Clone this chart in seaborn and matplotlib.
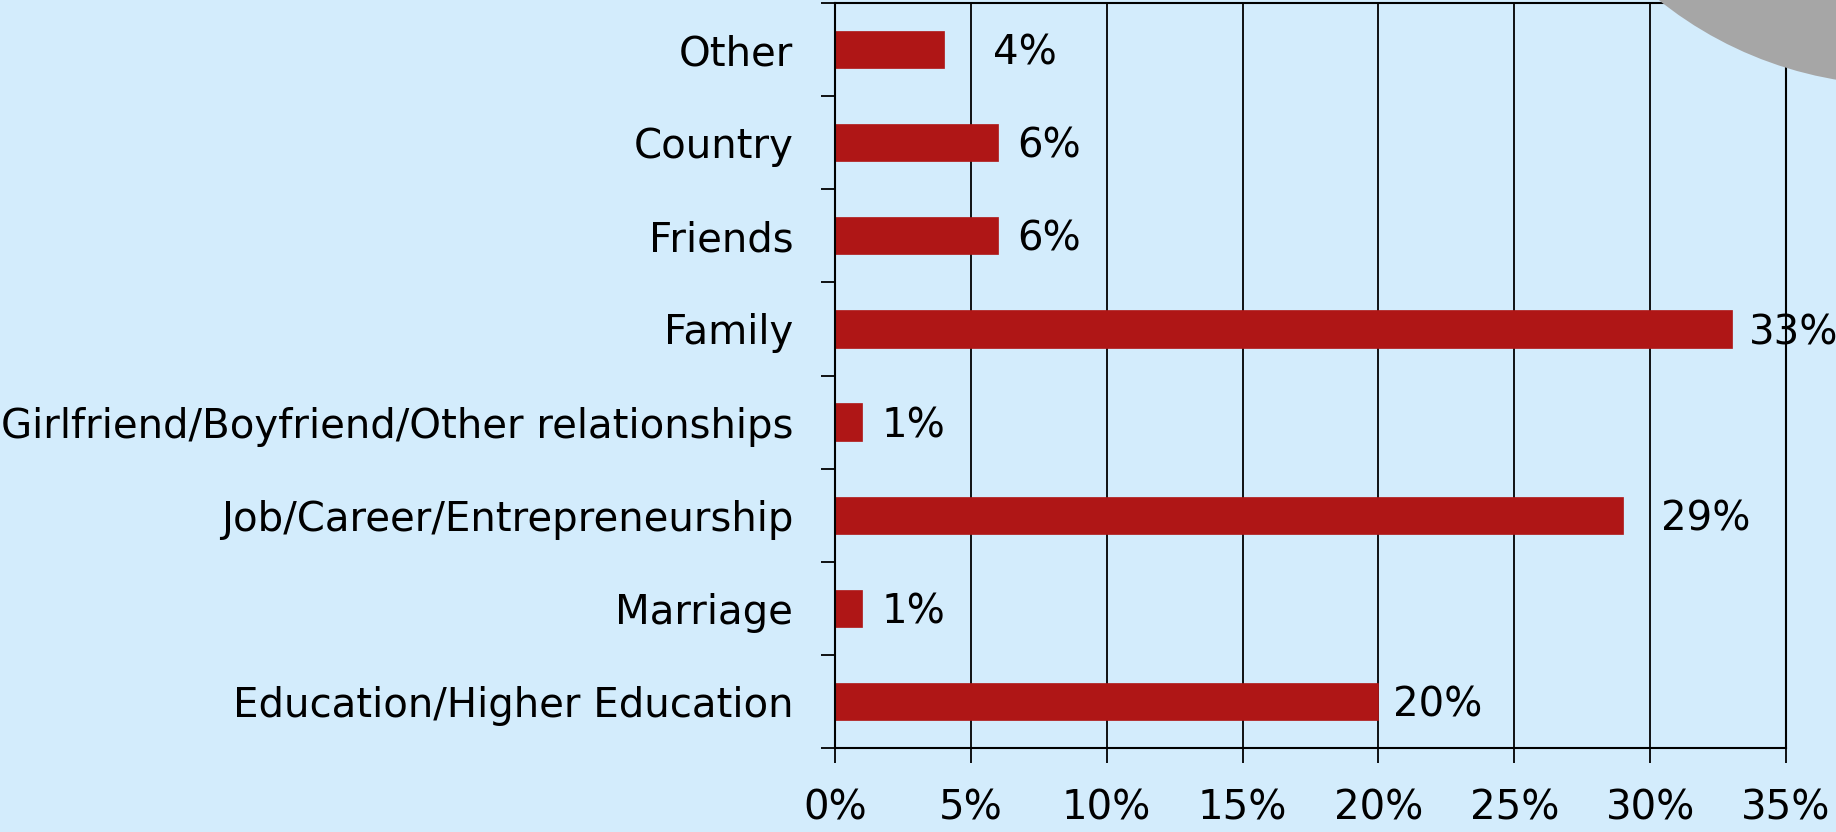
import numpy as np
import pandas as pd
import matplotlib
matplotlib.use("Agg")
import matplotlib.pyplot as plt
import seaborn as sns
from matplotlib.patches import Circle
from matplotlib.ticker import FixedLocator, FuncFormatter

# Données (de haut en bas)
categories = ["Other", "Country", "Friends", "Family",
              "Girlfriend/Boyfriend/Other relationships",
              "Job/Career/Entrepreneurship", "Marriage",
              "Education/Higher Education"]
valeurs = [4, 6, 6, 33, 1, 29, 1, 20]
x_ticks = [0, 5, 10, 15, 20, 25, 30, 35]

# décalage des étiquettes (en pixels) comme dans l'original
decalages = [49, 19, 19, 17, 19, 38, 19, 15]

fond = "#D3ECFC"
rouge = "#AF1616"

sns.set_style("white")
plt.rcParams['font.family'] = ['DejaVu Sans']

fig = plt.figure(figsize=(18.36, 8.32), dpi=100, facecolor=fond)

# disque gris en haut à droite (derrière le graphique)
disque = Circle((19.0, 8.32 + 3.0), 3.85, transform=fig.dpi_scale_trans,
                facecolor="#A6A6A6", edgecolor="none", zorder=0)
fig.patches.append(disque)

ax = fig.add_axes([835 / 1836, 84 / 832, 951 / 1836, 745 / 832])
ax.patch.set_alpha(0)

df = pd.DataFrame({"categorie": categories, "valeur": valeurs})
sns.barplot(data=df, x="valeur", y="categorie", order=categories,
            color=rouge, width=0.4, saturation=1, ax=ax, zorder=3,
            edgecolor=rouge, linewidth=0.5)

ax.set_xlim(0, 35)
ax.set_ylim(7.5, -0.5)
ax.set_xlabel("")
ax.set_ylabel("")

ax.set_xticks(x_ticks)
ax.xaxis.set_major_formatter(FuncFormatter(lambda v, p: f"{int(v)}%"))
ax.tick_params(axis="x", bottom=True, direction="out", length=11, width=1.3,
               color="black", labelcolor="black", pad=18, labelsize=29)
ax.tick_params(axis="y", which="major", left=True, length=0, pad=30,
               labelsize=29, labelcolor="black")
ax.yaxis.set_minor_locator(FixedLocator(np.arange(-0.5, 8.0, 1.0)))
ax.tick_params(axis="y", which="minor", left=True, direction="out", length=10,
               width=1.3, color="black")

ax.grid(axis="x", color="black", linewidth=1.3, zorder=1)
ax.set_axisbelow(True)
for s in ax.spines.values():
    s.set_visible(True)
    s.set_color("black")
    s.set_linewidth(1.5)
    s.set_zorder(4)

for i, (v, d) in enumerate(zip(valeurs, decalages)):
    ax.annotate(f"{v}%", xy=(v, i), xytext=(d * 0.72, -3), textcoords="offset points",
                ha="left", va="center", fontsize=29, color="black", zorder=5,
                annotation_clip=False)

fig.savefig("out.png", dpi=100, facecolor=fond)
